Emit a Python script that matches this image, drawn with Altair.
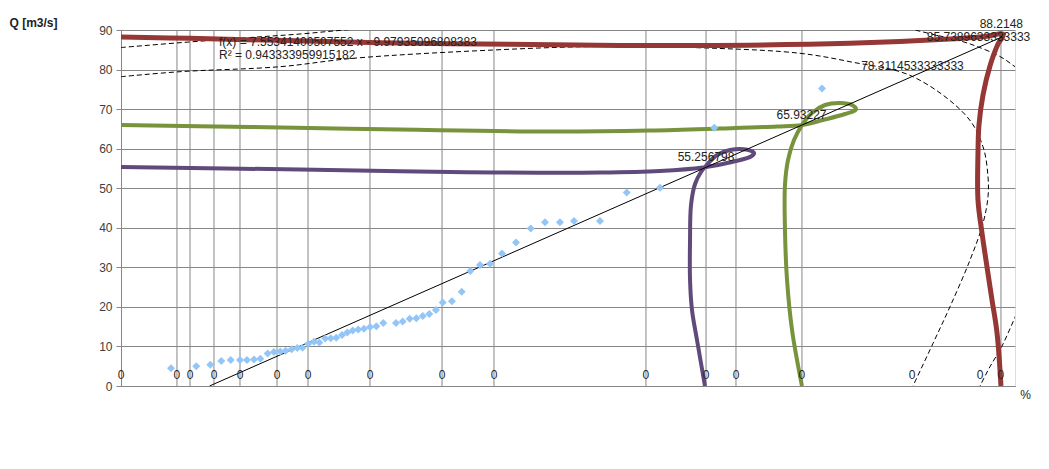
import altair as alt
import pandas as pd

FONT = "Liberation Sans"
GRID = "#868686"

# ---- observed flow points (x in %, Q in m3/s)
obs_x = [5.59, 8.42, 9.99, 11.22, 12.27, 13.31, 14.09, 14.88, 15.58, 16.41, 17.11, 17.82, 18.42,
         19.09, 19.72, 20.30, 20.95, 21.59, 22.18, 22.85, 23.46, 24.08, 24.72, 25.31, 25.92, 26.54,
         27.18, 27.85, 28.56, 29.34, 30.76, 31.51, 32.29, 33.03, 33.75, 34.49, 35.23, 35.98, 37.02,
         38.11, 39.07, 40.16, 41.28, 42.62, 44.18, 45.83, 47.43, 49.10, 50.67, 53.58, 56.57, 60.29,
         66.36, 78.41]
obs_q = [4.5, 5.0, 5.4, 6.3, 6.6, 6.6, 6.6, 6.7, 6.9, 8.2, 8.6, 8.7, 8.9,
         9.3, 9.6, 9.7, 10.7, 11.2, 11.0, 12.0, 12.1, 12.2, 12.9, 13.5, 14.0, 14.3,
         14.5, 14.9, 15.1, 15.9, 15.9, 16.3, 17.0, 17.1, 17.7, 18.2, 19.2, 21.1, 21.4,
         23.8, 29.1, 30.6, 30.9, 33.5, 36.3, 39.8, 41.4, 41.4, 41.7, 41.7, 48.9, 50.1,
         65.3, 75.2]

# ---- linear trend line
trend_x = [9.9, 98.6]
trend_q = [0.0, 88.3]

# ---- purple curve
purple_x = [0.00, 20.02, 36.80, 53.58, 60.29, 65.10, 68.46, 70.47, 70.81, 69.91, 68.12, 66.67,
            65.66, 64.88, 64.21, 63.76, 63.65, 63.65, 63.87, 64.43, 65.32]
purple_q = [55.36, 54.73, 54.10, 53.97, 54.35, 55.24, 56.70, 58.02, 58.90, 59.79, 59.66, 58.40,
            56.25, 54.10, 51.07, 45.76, 36.91, 26.80, 19.21, 11.63, 0.00]

# ---- green curve
green_x = [0.00, 14.43, 31.21, 47.99, 59.17, 67.00, 73.38, 76.17, 78.52, 80.98, 82.21, 81.77,
           80.43, 78.75, 77.29, 76.17, 75.28, 74.61, 74.27, 74.27, 74.50, 75.06, 76.17]
green_q = [65.98, 65.48, 64.84, 64.34, 64.59, 65.10, 65.60, 65.98, 67.25, 68.76, 69.90, 71.04,
           71.54, 71.04, 69.02, 65.98, 62.19, 57.13, 50.81, 39.44, 26.80, 14.16, 0.00]

# ---- red curve
red_x = [0.00, 7.72, 28.97, 51.01, 64.77, 81.54, 92.73, 96.64, 98.70, 98.10, 97.20, 96.42,
         95.97, 95.86, 95.86, 96.31, 96.87, 97.43, 97.99, 98.43]
red_q = [88.23, 87.90, 86.79, 86.21, 86.08, 86.64, 87.72, 88.36, 88.90, 86.46, 80.90, 73.56,
         65.98, 58.90, 47.02, 38.68, 30.08, 21.74, 13.40, 0.00]

# ---- dashed curves
dashB_x = [0.00, 6.60, 17.79, 25.95, 41.61, 53.58, 66.55, 75.95, 81.54, 88.48, 94.63, 96.42,
           96.98, 96.98, 96.42, 94.97, 92.73, 90.83, 88.59]
dashB_q = [78.19, 79.46, 80.72, 82.84, 84.94, 85.83, 85.37, 84.11, 81.98, 78.31, 68.08, 60.50,
           52.91, 47.86, 41.13, 31.85, 20.05, 10.79, 0.00]
dashA1_x = [0.00, 6.60, 14.43, 20.02, 25.06, 31.21]
dashA1_q = [85.57, 86.79, 88.10, 88.99, 90.00, 91.01]
dashA2_x = [87.14, 89.04, 91.61, 94.18, 95.86, 98.32, 100.0, 101.68]
dashA2_q = [91.01, 89.87, 88.48, 87.04, 85.74, 83.30, 80.72, 77.86]
dashA3_x = [95.53, 96.09, 97.20, 98.51, 100.19]
dashA3_q = [-2.78, 0.00, 4.88, 9.94, 18.38]

# ---- vertical lines and "0" labels
vline_x = [6.26, 7.72, 10.40, 13.31, 17.45, 20.92, 27.85, 35.91, 41.72, 58.72, 65.44, 68.79,
           76.17, 98.43]
zero_x = [0.0, 6.26, 7.72, 10.40, 13.31, 17.45, 20.92, 27.85, 35.91, 41.72, 58.72, 65.44, 68.79,
          76.17, 88.48, 96.09, 98.43]
zero_q = [0] * len(zero_x)
zero_text = ["0"] * len(zero_x)

# ---- value labels
val_x = [65.44, 76.12, 88.53, 95.92, 98.47]
val_q = [57.97, 68.60, 80.85, 88.30, 91.55]
val_text = ["55.256798", "65.93227", "78.3114533333333", "85.7389633333333", "88.2148"]

eq_x = [10.96, 10.96]
eq_q = [86.96, 83.70]
eq_text = ["f(x) = 7.55341400507552 x - 9.97935096808383", "R² = 0.943333959915182"]

xs = alt.Scale(domain=[0, 100], nice=False, zero=False)
ys = alt.Scale(domain=[0, 90], nice=False, zero=False)

x_axis = alt.Axis(grid=False, ticks=False, labels=False, domainColor=GRID, domainWidth=1,
                  title="%", titleFont=FONT, titleFontSize=12, titleFontWeight="normal",
                  titleColor="#222222", titleX=904, titleY=8, titleAlign="center",
                  titleBaseline="middle")
y_axis = alt.Axis(values=list(range(0, 91, 10)), grid=True, gridColor=GRID, gridWidth=1,
                  domainColor=GRID, domainWidth=1, tickColor=GRID, tickSize=5,
                  labelFont=FONT, labelFontSize=12, labelColor="#404040", labelPadding=4,
                  title="Q [m3/s]", titleFont=FONT, titleFontSize=12, titleFontWeight="bold",
                  titleColor="#222222", titleAngle=0, titleAlign="left", titleBaseline="middle",
                  titleX=-112, titleY=-8)

X = alt.X("x:Q", scale=xs, axis=x_axis)
Y = alt.Y("y:Q", scale=ys, axis=y_axis)


def curve_df(xv, qv):
    return pd.DataFrame({"x": xv, "y": qv, "i": list(range(len(xv)))})


vrules = alt.Chart(pd.DataFrame({"x": vline_x})).mark_rule(color=GRID, strokeWidth=1).encode(x=X)


def line_layer(xv, qv, color, width, dash=None, interp="catmull-rom"):
    kw = dict(color=color, strokeWidth=width, interpolate=interp, clip=True)
    if dash:
        kw["strokeDash"] = dash
    return alt.Chart(curve_df(xv, qv)).mark_line(**kw).encode(
        x=X, y=Y, order=alt.Order("i:Q"),
    )


dashB = line_layer(dashB_x, dashB_q, "#000000", 1, [5, 3])
dashA1 = line_layer(dashA1_x, dashA1_q, "#000000", 1, [5, 3])
dashA2 = line_layer(dashA2_x, dashA2_q, "#000000", 1, [5, 3])
dashA3 = line_layer(dashA3_x, dashA3_q, "#000000", 1, [5, 3])

purple = line_layer(purple_x, purple_q, "#604A7B", 4)
green = line_layer(green_x, green_q, "#77933C", 4)
red = line_layer(red_x, red_q, "#953735", 5)
trend = line_layer(trend_x, trend_q, "#000000", 1, interp="linear")

points = alt.Chart(pd.DataFrame({"x": obs_x, "y": obs_q})).mark_point(
    shape="diamond", filled=True, size=64, color="#93C6F7", opacity=1
).encode(x=X, y=Y)

zeros = alt.Chart(pd.DataFrame({"x": zero_x, "y": zero_q, "t": zero_text})).mark_text(
    font=FONT, fontSize=12, color="#262626", dy=-11, baseline="middle", align="center",
    opacity=0.99
).encode(x=X, y=Y, text="t:N")

vals = alt.Chart(pd.DataFrame({"x": val_x, "y": val_q, "t": val_text})).mark_text(
    font=FONT, fontSize=12, color="#222222", baseline="middle", align="center"
).encode(x=X, y=Y, text="t:N")

eqs = alt.Chart(pd.DataFrame({"x": eq_x, "y": eq_q, "t": eq_text})).mark_text(
    font=FONT, fontSize=12, color="#222222", baseline="middle", align="left"
).encode(x=X, y=Y, text="t:N")

chart = alt.layer(
    vrules, dashB, dashA1, dashA2, dashA3, purple, green, red, trend, points, zeros, vals, eqs
).properties(
    width=894, height=356,
    autosize=alt.AutoSizeParams(type="none"),
    padding={"left": 113, "top": 22, "right": 26, "bottom": 75},
).configure_view(strokeWidth=0).configure(background="#ffffff")

chart.save("out.html", embed_options={"renderer": "svg", "actions": False})
